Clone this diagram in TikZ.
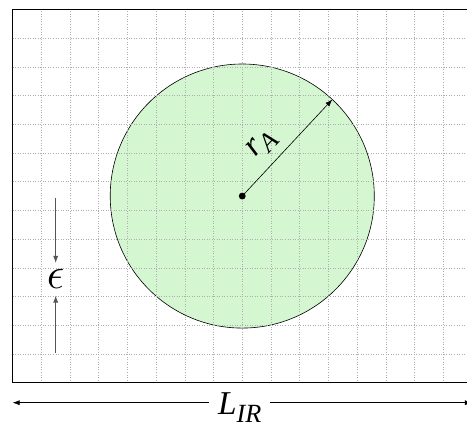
\documentclass[tikz,border=0pt]{standalone}
\usepackage{fontspec}
\setmainfont{Liberation Serif}
\usepackage{xcolor}
\usepackage{graphicx}
\usepackage{tikz}
\usetikzlibrary{arrows.meta, positioning, calc}
\definecolor{mygreen}{RGB}{212,247,210}
\definecolor{mygrid}{RGB}{175,175,175}
\definecolor{mygray}{RGB}{85,85,85}
\definecolor{mydark}{RGB}{0,0,0}
\newcommand{\bigit}{\fontsize{33}{36}\selectfont\itshape}
\newcommand{\subit}[1]{\raisebox{-8pt}{\fontsize{26}{28}\selectfont\itshape #1}}
\tikzset{
  gridline/.style={dotted, color=mygrid, line width=0.5pt},
  frameline/.style={line width=1.6pt, color=mydark},
  disc/.style={fill=mygreen, draw=mydark, line width=0.6pt},
  arrow/.style={-{Latex[length=7pt,width=5pt]}, line width=0.6pt, color=mydark},
  grayarrow/.style={-{Latex[length=7pt,width=5pt]}, line width=0.8pt, color=mygray},
  label/.style={font=\bigit, inner sep=0pt}
}

\begin{document}
\begin{tikzpicture}
  \useasboundingbox (-0.44,-1.44) rectangle (15.83,13.33);

  % box, disc and grid
  \fill[white] (0,0) rectangle (16,13);
  \coordinate (ctr) at (8,6.5);
  \draw[disc] (ctr) circle (4.6);
  \draw[gridline] (0,0) grid (16,13);
  \draw[frameline] (0,0) rectangle (16,13);

  % radius
  \coordinate (rim) at ($(ctr)+(47:4.6)$);
  \fill[mydark] (ctr) circle (0.12);
  \draw[arrow] (ctr) -- (rim);
  \node[label, rotate=47, anchor=base west] (ra) at ($(ctr)+(47:1.28)+(137:0.59)$) {r\subit{A}};

  % epsilon
  \node[font=\Huge, inner sep=0pt, minimum height=1.12cm] (eps) at (1.5,3.6) {\scalebox{1.77}{$\epsilon$}};
  \coordinate (epstop) at (1.5,6.43);
  \coordinate (epsbot) at (1.5,1.03);
  \draw[grayarrow] (epstop) -- (eps.north);
  \draw[grayarrow] (epsbot) -- (eps.south);

  % length
  \node[label, inner xsep=0.3cm, anchor=base west] (lir) at (6.85,-1.125) {L\subit{IR}};
  \coordinate (lft) at (0,-0.7);
  \coordinate (rgt) at (16,-0.7);
  \draw[arrow] (lir.west |- lft) -- (lft);
  \draw[arrow] (lir.east |- rgt) -- (rgt);
\end{tikzpicture}
\end{document}
